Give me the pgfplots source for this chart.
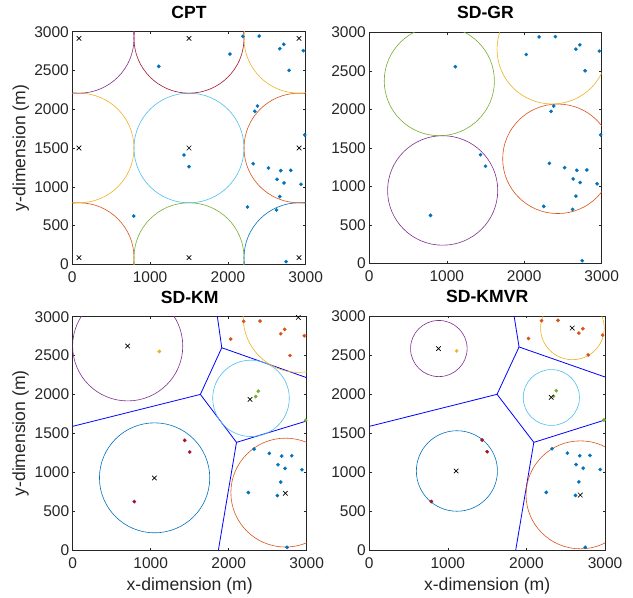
\documentclass[border=0pt]{standalone}
\usepackage{pgfplots}
\pgfplotsset{compat=1.18}
\usepackage{fontspec}
\setmainfont{Liberation Sans}
\definecolor{mblue}{rgb}{0,0.447,0.741}
\definecolor{morange}{rgb}{0.85,0.325,0.098}
\definecolor{myellow}{rgb}{0.929,0.694,0.125}
\definecolor{mpurple}{rgb}{0.494,0.184,0.556}
\definecolor{mgreen}{rgb}{0.466,0.674,0.188}
\definecolor{mcyan}{rgb}{0.301,0.745,0.933}
\definecolor{mred}{rgb}{0.635,0.078,0.184}
\definecolor{axgray}{rgb}{0.15,0.15,0.15}
\definecolor{vblue}{rgb}{0,0,1}
\pgfplotsset{
  mystyle/.style={
    scale only axis,
    xmin=0,xmax=3000,ymin=0,ymax=3000,
    xtick={0,1000,2000,3000}, ytick={0,500,1000,1500,2000,2500,3000},
    tick align=inside, major tick length=2.3bp,
    axis line style={axgray, line width=0.5bp},
    tick style={axgray, line width=0.5bp},
    ticklabel style={font=\fontsize{15.5bp}{16bp}\selectfont, text=axgray},
    xticklabel style={yshift=-4.3bp},
    /pgf/number format/assume math mode=true,
    /pgf/number format/1000 sep={},
    title style={at={(axis description cs:0.5,1)}, anchor=base, yshift=7.5bp,
      font=\bfseries\fontsize{17.6bp}{18bp}\selectfont},
    label style={font=\fontsize{17.6bp}{18bp}\selectfont, text=axgray},
    clip=true,
  },
  users/.style={only marks, mark=*, mark size=1.7bp, color=#1, mark options={solid, fill=#1, draw=#1, line width=0.3bp}},
  cross/.style={only marks, mark=x, mark size=3.2bp, color=black, mark options={solid, line width=0.7bp}},
  vor/.style={vblue, line width=0.8bp},
}
\newcommand{\circl}[4]{\draw[#4, line width=0.6bp] (axis cs:#1,#2) circle[radius=#3];}
\begin{document}
\begin{tikzpicture}
\useasboundingbox (0,0) rectangle (633bp,598bp);
% ---------------- CPT ----------------
\begin{axis}[mystyle, at={(72.3bp,333.7bp)}, anchor=south west, width=233.4bp, height=232.6bp,
  title={CPT}, ylabel={y-dimension (m)},
  ylabel style={at={(axis description cs:-0.221,0.5)}, anchor=center}]
\addplot[users=mblue] coordinates {(2192,2940) (2402,2944) (2026,2712) (1111,2553) (2667,2781) (2718,2837) (2970,2755) (2786,2501) (2380,2042) (2346,1973) (2987,1668) (1436,1410) (1500,1260) (2325,1298) (2521,1242) (2679,1208) (2808,1212) (2632,1096) (2722,1049) (2940,1032) (2667,873) (2252,739) (2624,700) (790,622) (2748,34)};
\circl{86}{86}{707}{morange}
\circl{86}{1500}{707}{myellow}
\circl{86}{2914}{707}{mpurple}
\circl{1500}{86}{707}{mgreen}
\circl{1500}{1500}{707}{mcyan}
\circl{1500}{2914}{707}{mred}
\circl{2914}{86}{707}{mblue}
\circl{2914}{1500}{707}{morange}
\circl{2914}{2914}{707}{myellow}
\addplot[cross] coordinates {(86,86) (86,1500) (86,2914) (1500,86) (1500,1500) (1500,2914) (2914,86) (2914,1500) (2914,2914)};
\end{axis}
% ---------------- SD-GR ----------------
\begin{axis}[mystyle, at={(369.3bp,334.7bp)}, anchor=south west, width=232.4bp, height=231bp,
  title={SD-GR}]
\addplot[users=mblue] coordinates {(2192,2940) (2402,2944) (2026,2712) (1111,2553) (2667,2781) (2718,2837) (2970,2755) (2786,2501) (2380,2042) (2346,1973) (2987,1668) (1436,1410) (1500,1260) (2325,1298) (2521,1242) (2679,1208) (2808,1212) (2632,1096) (2722,1049) (2940,1032) (2667,873) (2252,739) (2624,700) (790,622) (2748,34)};
\circl{2433}{1357}{711}{morange}
\circl{2360}{2780}{711}{myellow}
\circl{947}{946}{711}{mpurple}
\circl{904}{2368}{711}{mgreen}
\end{axis}
% ---------------- SD-KM ----------------
\begin{axis}[mystyle, at={(72.7bp,48bp)}, anchor=south west, width=234bp, height=233.3bp,
  title={SD-KM}, ylabel={y-dimension (m)}, xlabel={x-dimension (m)},
  ylabel style={at={(axis description cs:-0.2226,0.5)}, anchor=center},
  xlabel style={at={(axis description cs:0.5,-0.1745)}, anchor=base}]
\addplot[vor] coordinates {(0,1590) (1637,2001)};
\addplot[vor] coordinates {(1637,2001) (1911,2601)};
\addplot[vor] coordinates {(1855,3000) (1911,2601) (3000,2216)};
\addplot[vor] coordinates {(1637,2001) (2100,1384)};
\addplot[vor] coordinates {(3000,1659) (2100,1384) (1868,0)};
\addplot[users=morange] coordinates {(2192,2940) (2402,2944) (2026,2712) (2667,2781) (2718,2837) (2970,2755) (2786,2501)};
\addplot[users=myellow] coordinates {(1111,2553)};
\addplot[users=mgreen] coordinates {(2380,2042) (2346,1973) (2987,1668)};
\addplot[users=mred] coordinates {(1436,1410) (1500,1260) (790,622)};
\addplot[users=mblue] coordinates {(2325,1298) (2521,1242) (2679,1208) (2808,1212) (2632,1096) (2722,1049) (2940,1032) (2667,873) (2252,739) (2624,700) (2748,34)};
\circl{705}{2623}{706}{mpurple}
\circl{2286}{1950}{491}{mcyan}
\circl{1050}{928}{707}{mblue}
\circl{2728}{738}{700}{morange}
\circl{2893}{2991}{707}{myellow}
\addplot[cross] coordinates {(705,2623) (2274,1937) (1047,926) (2726,729) (2893,2991)};
\end{axis}
% ---------------- SD-KMVR ----------------
\begin{axis}[mystyle, at={(369.3bp,48bp)}, anchor=south west, width=235.7bp, height=234bp,
  title={SD-KMVR}, xlabel={x-dimension (m)},
  xlabel style={at={(axis description cs:0.5,-0.174)}, anchor=base}]
\addplot[vor] coordinates {(0,1585) (1626,1996)};
\addplot[vor] coordinates {(1626,1996) (1906,2603)};
\addplot[vor] coordinates {(1843,3000) (1906,2603) (3000,2218)};
\addplot[vor] coordinates {(1626,1996) (2094,1380)};
\addplot[vor] coordinates {(3000,1667) (2094,1380) (1864,0)};
\addplot[users=morange] coordinates {(2192,2940) (2402,2944) (2026,2712) (2667,2781) (2718,2837) (2970,2755) (2786,2501)};
\addplot[users=myellow] coordinates {(1111,2553)};
\addplot[users=mgreen] coordinates {(2380,2042) (2346,1973) (2987,1668)};
\addplot[users=mred] coordinates {(1436,1410) (1500,1260) (790,622)};
\addplot[users=mblue] coordinates {(2325,1298) (2521,1242) (2679,1208) (2808,1212) (2632,1096) (2722,1049) (2940,1032) (2667,873) (2252,739) (2624,700) (2748,34)};
\circl{885}{2583}{360}{mpurple}
\circl{2585}{2845}{405}{myellow}
\circl{2317}{1955}{358}{mcyan}
\circl{1115}{1013}{516}{mblue}
\circl{2687}{707}{692}{morange}
\addplot[cross] coordinates {(881,2581) (2583,2846) (2315,1957) (1106,1013) (2685,705)};
\end{axis}
\end{tikzpicture}
\end{document}
